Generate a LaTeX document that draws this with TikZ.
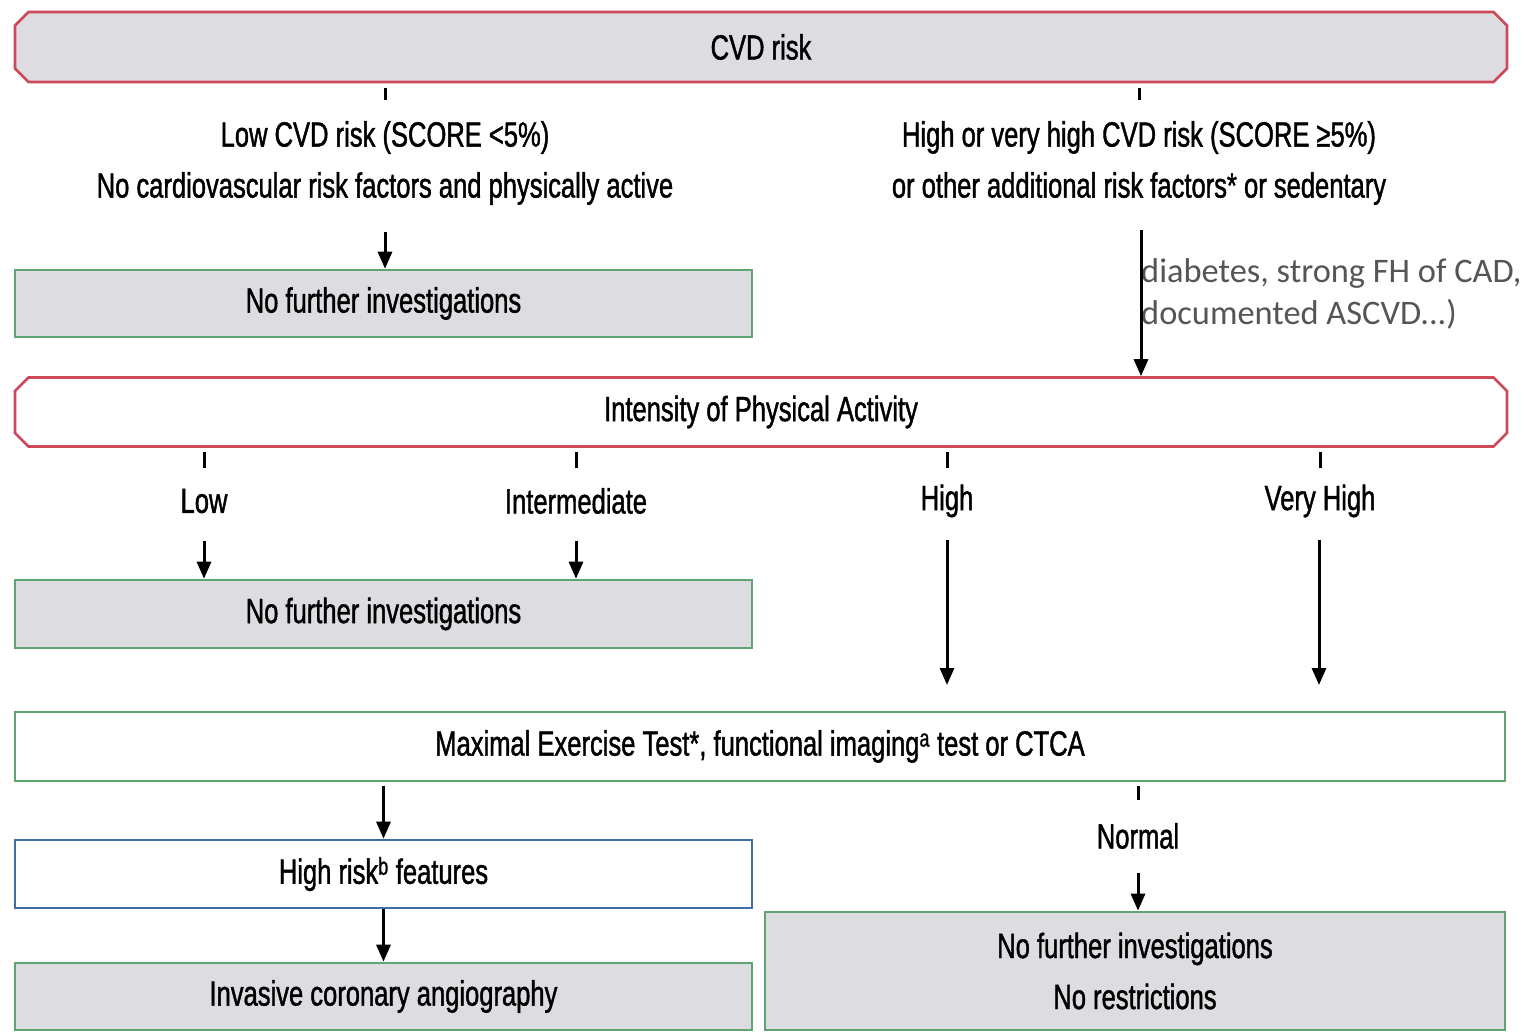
\documentclass[tikz,border=0pt]{standalone}
\usepackage{fontspec}
\setmainfont{Liberation Sans}[FakeStretch=0.73,FakeBold=1.2]
\newfontfamily\notefont{Carlito}
\usetikzlibrary{shapes.misc,arrows.meta,calc}
\definecolor{redc}{HTML}{CC4A5A}
\definecolor{greenc}{HTML}{5FA472}
\definecolor{bluec}{HTML}{3D6EA6}
\definecolor{grayfill}{HTML}{DDDDE1}
\definecolor{notec}{HTML}{555555}
\tikzset{
  txt/.style={font=\fontsize{35}{51}\selectfont, align=center, inner sep=0pt},
  box/.style={txt, line width=2.6pt, minimum height=68pt},
  redbox/.style={box, chamfered rectangle, chamfered rectangle xsep=10pt, draw=redc, minimum width=1492pt},
  greenbox/.style={box, rectangle, draw=greenc},
  bluebox/.style={box, rectangle, draw=bluec},
  conn/.style={line width=3pt, black},
  arr/.style={conn, -{Triangle[width=14pt,length=17pt]}},
}
\begin{document}
\begin{tikzpicture}[x=1pt,y=-1pt]
\fill[white] (0,0) rectangle (1525,1034);
\useasboundingbox (0,0) rectangle (1525,1034);

% top box
\node[redbox, fill=grayfill, minimum height=70pt] (cvd) at (761,47) {CVD risk};

% branch labels
\node[txt] (lowlab) at (385,163) {Low CVD risk (SCORE <5\%)\\No cardiovascular risk factors and physically active};
\node[txt] (highlab) at (1139,163) {High or very high CVD risk (SCORE ≥5\%)\\or other additional risk factors* or sedentary};

\node[greenbox, fill=grayfill, minimum width=737pt, minimum height=67pt] (nfi1) at (383.5,303.5) {No further investigations};

\node[anchor=west, inner sep=0pt, align=left, text=notec, font=\notefont\fontsize{34.4}{42}\selectfont] (note) at (1141,294) {diabetes, strong FH of CAD,\\documented ASCVD...)};

\node[redbox, fill=white, minimum height=69pt] (ipa) at (761,412) {Intensity of Physical Activity};

% intensity labels
\node[txt] (lowI) at (204,501) {Low};
\node[txt] (interI) at (576,501) {Intermediate};
\node[txt] (highI) at (947,501) {High};
\node[txt] (vhighI) at (1320,501) {Very High};

\node[greenbox, fill=grayfill, minimum width=737pt, minimum height=68pt] (nfi2) at (383.5,614) {No further investigations};

\coordinate (hEnd) at (947,685);
\coordinate (vEnd) at (1319,685);

\node[greenbox, fill=white, minimum width=1490pt, minimum height=69pt] (met) at (760,746.5) {Maximal Exercise Test*, functional imaging\textsuperscript{a} test or CTCA};

\node[bluebox, fill=white, minimum width=737pt, minimum height=68pt] (hrf) at (383.5,874) {High risk\textsuperscript{b} features};

\node[greenbox, fill=grayfill, minimum width=737pt, minimum height=67pt] (ica) at (383.5,996.5) {Invasive coronary angiography};

\node[txt] (normal) at (1138,836) {Normal};

\node[greenbox, fill=grayfill, minimum width=740pt, minimum height=118pt] (nfr) at (1135,971) {No further investigations\\No restrictions};

% connectors: stubs below boxes
\draw[conn] ($(cvd.south -| lowlab)+(0,5)$) -- ++(0,12);
\draw[conn] ($(cvd.south -| highlab)+(0,5)$) -- ++(0,12);
\draw[arr] ($(nfi1.north -| lowlab)+(0,-37)$) -- (nfi1.north -| lowlab);
\draw[arr] ($(ipa.north -| note.west)+(0,-146)$) -- (ipa.north -| note.west);

\foreach \n in {lowI,interI,highI,vhighI}{
  \draw[conn] ($(ipa.south -| \n)+(0,4)$) -- ++(0,16);
}
\draw[arr] ($(nfi2.north -| lowI)+(0,-38)$) -- (nfi2.north -| lowI);
\draw[arr] ($(nfi2.north -| interI)+(0,-38)$) -- (nfi2.north -| interI);
\draw[arr] ($(hEnd)+(0,-145)$) -- (hEnd);
\draw[arr] ($(vEnd)+(0,-145)$) -- (vEnd);

\draw[arr] ($(met.south -| hrf)+(0,4)$) -- (hrf.north);
\draw[arr] (hrf.south) -- (ica.north);
\draw[conn] ($(met.south -| normal)+(0,4)$) -- ++(0,14);
\draw[arr] ($(nfr.north -| normal)+(0,-38)$) -- (nfr.north -| normal);
\end{tikzpicture}
\end{document}
